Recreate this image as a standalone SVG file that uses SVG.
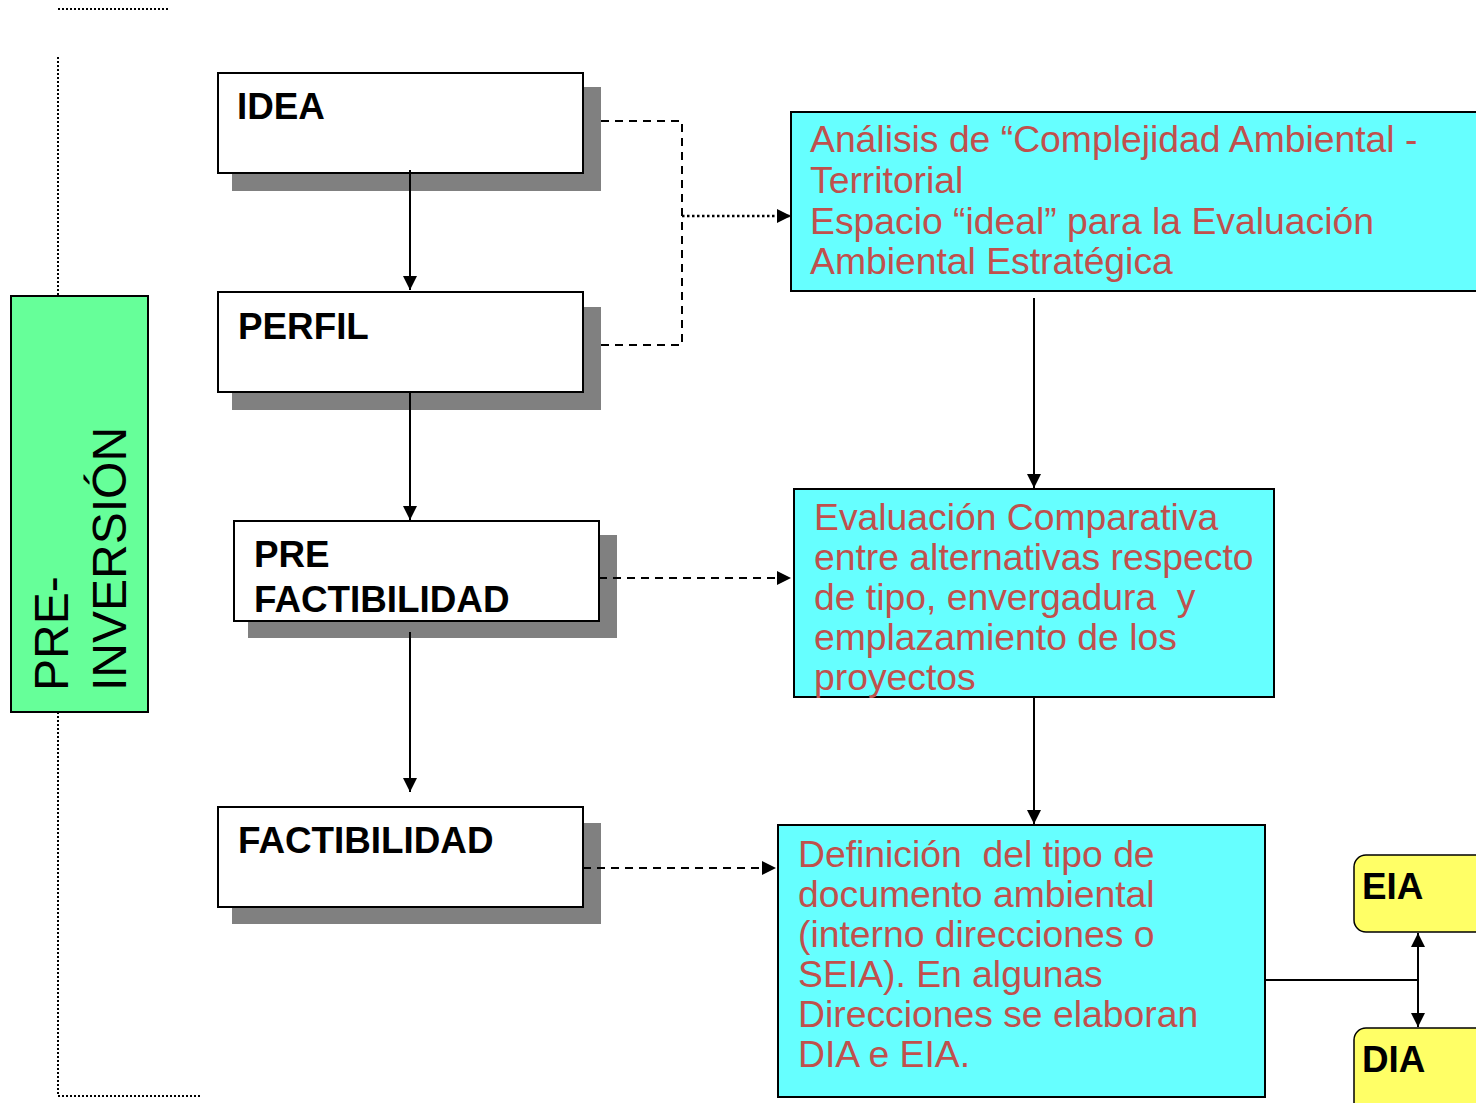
<svg xmlns="http://www.w3.org/2000/svg" width="1476" height="1103" viewBox="0 0 1476 1103">
<style>
.box{fill:#fff;stroke:#000;stroke-width:2}
.shadow{fill:#808080}
.lbl{font-family:"Liberation Sans",Arial,sans-serif;font-weight:bold;font-size:36.8px;fill:#000}
.cyan{fill:#66FFFF;stroke:#000;stroke-width:2}
.ctext{font-family:"Liberation Sans",Arial,sans-serif;font-size:37.3px;fill:#C0504D;white-space:pre}
.yel{fill:#FFFF66;stroke:#000;stroke-width:1.5}
.solid{stroke:#000;stroke-width:2;fill:none}
.dash{stroke:#000;stroke-width:2;fill:none;stroke-dasharray:8 6}
.dot{stroke:#000;stroke-width:2.5;fill:none;stroke-dasharray:2.5 2.5}
.frame{stroke:#000;stroke-width:2;fill:none;stroke-dasharray:2 2}
</style>
<defs>
<marker id="ah" viewBox="0 0 10 10" refX="10" refY="5" markerWidth="14" markerHeight="14" markerUnits="userSpaceOnUse" orient="auto-start-reverse">
<path d="M0,0 L10,5 L0,10 Z" fill="#000"/>
</marker>
</defs>
<rect width="1476" height="1103" fill="#fff"/>

<g id="frame">
<line class="frame" x1="58" y1="9" x2="170" y2="9"/>
<line class="frame" x1="58" y1="57" x2="58" y2="296"/>
<line class="frame" x1="58" y1="712" x2="58" y2="1096"/>
<line class="frame" x1="58" y1="1096" x2="202" y2="1096"/>
</g>

<g id="preinversion">
<rect x="11" y="296" width="137" height="416" fill="#66FF99" stroke="#000" stroke-width="2"/>
<text transform="translate(68,691) rotate(-90)" font-family="Liberation Sans, Arial, sans-serif" font-size="48" fill="#000">PRE-</text>
<text transform="translate(126,691) rotate(-90)" font-family="Liberation Sans, Arial, sans-serif" font-size="48" fill="#000">INVERSIÓN</text>
</g>

<g id="idea">
<rect class="shadow" x="232" y="87" width="369" height="104"/>
<rect class="box" x="218" y="73" width="365" height="100"/>
<text class="lbl" x="237" y="119">IDEA</text>
</g>

<g id="perfil">
<rect class="shadow" x="232" y="307" width="369" height="103"/>
<rect class="box" x="218" y="292" width="365" height="100"/>
<text class="lbl" x="238" y="339">PERFIL</text>
</g>

<g id="prefactibilidad">
<rect class="shadow" x="248" y="535" width="369" height="103"/>
<rect class="box" x="234" y="521" width="365" height="100"/>
<text class="lbl" x="254" y="567">PRE</text>
<text class="lbl" x="254" y="612">FACTIBILIDAD</text>
</g>

<g id="factibilidad">
<rect class="shadow" x="232" y="823" width="369" height="101"/>
<rect class="box" x="218" y="807" width="365" height="100"/>
<text class="lbl" x="238" y="853">FACTIBILIDAD</text>
</g>

<g id="analisis">
<rect class="cyan" x="791" y="112" width="690" height="179"/>
<text class="ctext" x="810" y="152">Análisis de “Complejidad Ambiental -</text>
<text class="ctext" x="810" y="193">Territorial</text>
<text class="ctext" x="810" y="234">Espacio “ideal” para la Evaluación</text>
<text class="ctext" x="810" y="274">Ambiental Estratégica</text>
</g>

<g id="evaluacion">
<rect class="cyan" x="794" y="489" width="480" height="208"/>
<text class="ctext" x="814" y="530">Evaluación Comparativa</text>
<text class="ctext" x="814" y="570">entre alternativas respecto</text>
<text class="ctext" x="814" y="610" xml:space="preserve">de tipo, envergadura  y</text>
<text class="ctext" x="814" y="650">emplazamiento de los</text>
<text class="ctext" x="814" y="690">proyectos</text>
</g>

<g id="definicion">
<rect class="cyan" x="778" y="825" width="487" height="272"/>
<text class="ctext" x="798" y="867" xml:space="preserve">Definición  del tipo de</text>
<text class="ctext" x="798" y="907">documento ambiental</text>
<text class="ctext" x="798" y="947">(interno direcciones o</text>
<text class="ctext" x="798" y="987">SEIA). En algunas</text>
<text class="ctext" x="798" y="1027">Direcciones se elaboran</text>
<text class="ctext" x="798" y="1067">DIA e EIA.</text>
</g>

<g id="eia">
<rect class="yel" x="1354" y="855" width="140" height="77" rx="12"/>
<text class="lbl" x="1362" y="899">EIA</text>
</g>

<g id="dia">
<rect class="yel" x="1354" y="1028" width="140" height="90" rx="12"/>
<text class="lbl" x="1362" y="1072">DIA</text>
</g>

<g id="connectors">
<line class="solid" x1="410" y1="170" x2="410" y2="290" marker-end="url(#ah)"/>
<line class="solid" x1="410" y1="392" x2="410" y2="520" marker-end="url(#ah)"/>
<line class="solid" x1="410" y1="632" x2="410" y2="792" marker-end="url(#ah)"/>
<polyline class="dash" points="601,121 682,121 682,345 601,345"/>
<line class="dot" x1="682" y1="216" x2="791" y2="216" marker-end="url(#ah)"/>
<line class="dash" x1="599" y1="578" x2="791" y2="578" marker-end="url(#ah)"/>
<line class="dash" x1="583" y1="868" x2="776" y2="868" marker-end="url(#ah)"/>
<line class="solid" x1="1034" y1="298" x2="1034" y2="488" marker-end="url(#ah)"/>
<line class="solid" x1="1034" y1="697" x2="1034" y2="824" marker-end="url(#ah)"/>
<line class="solid" x1="1265" y1="980" x2="1418" y2="980"/>
<line class="solid" x1="1418" y1="933" x2="1418" y2="1027" marker-start="url(#ah)" marker-end="url(#ah)"/>
</g>
</svg>
